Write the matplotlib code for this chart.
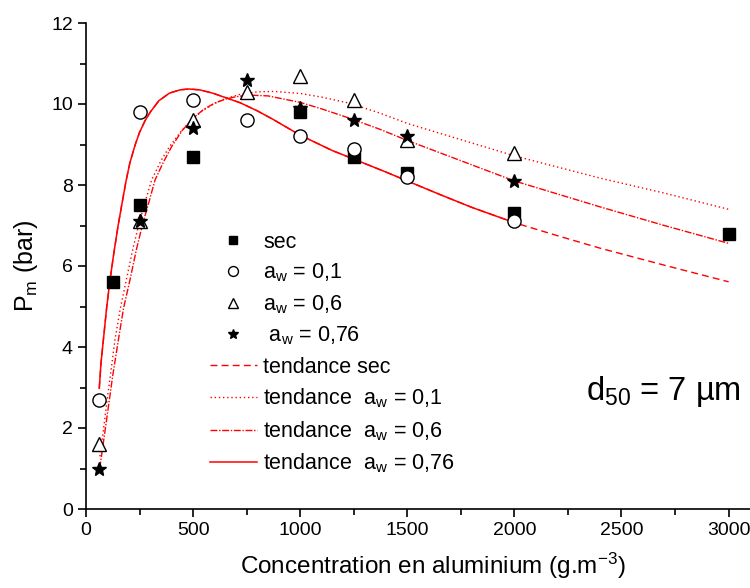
import matplotlib
matplotlib.use("Agg")
import matplotlib.pyplot as plt

plt.rcParams['font.family'] = ['Liberation Sans', 'DejaVu Sans']
plt.rcParams['mathtext.default'] = 'regular'

# measured points
conc_sec = [125, 250, 500, 1000, 1250, 1500, 2000, 3000]
pm_sec = [5.6, 7.5, 8.7, 9.8, 8.7, 8.3, 7.3, 6.8]

conc_aw = [60, 250, 500, 750, 1000, 1250, 1500, 2000]
pm_aw01 = [2.7, 9.8, 10.1, 9.6, 9.2, 8.9, 8.2, 7.1]
pm_aw06 = [1.6, 7.1, 9.6, 10.3, 10.7, 10.1, 9.1, 8.8]
pm_aw076 = [1.0, 7.1, 9.4, 10.6, 9.9, 9.6, 9.2, 8.1]

# trend curves
tr_076_x = [62, 70, 81, 96, 112, 130, 150, 170, 187, 205, 230, 250, 275, 300, 340,
            390, 440, 480, 530, 590, 650, 720, 800, 870, 1000, 1150, 1250, 1400,
            1500, 1650, 1800, 2000]
tr_076_y = [2.98, 3.6, 4.17, 4.95, 5.65, 6.32, 7.0, 7.6, 8.1, 8.55, 9.0, 9.3, 9.58,
            9.8, 10.08, 10.27, 10.35, 10.37, 10.35, 10.27, 10.16, 10.03, 9.83, 9.63,
            9.23, 8.85, 8.64, 8.32, 8.1, 7.77, 7.45, 7.07]

tr_sec_x = tr_076_x + [2200, 2400, 2700, 3000]
tr_sec_y = tr_076_y + [6.75, 6.44, 6.02, 5.61]

tr_01_x = [65, 80, 100, 120, 135, 160, 190, 220, 250, 280, 306, 350, 390, 440, 485,
           540, 595, 650, 720, 800, 880, 1000, 1100, 1230, 1370, 1500, 1700, 2000,
           2400, 2700, 3000]
tr_01_y = [1.3, 1.9, 2.75, 3.55, 4.17, 4.95, 5.7, 6.45, 7.1, 7.65, 8.12, 8.6, 8.95,
           9.3, 9.57, 9.82, 10.0, 10.13, 10.24, 10.3, 10.31, 10.26, 10.17, 10.02,
           9.78, 9.52, 9.2, 8.72, 8.17, 7.8, 7.4]

tr_06_x = [64, 80, 100, 125, 151, 175, 205, 235, 265, 295, 322, 360, 400, 450, 500,
           550, 600, 650, 700, 760, 850, 1000, 1100, 1230, 1370, 1500, 1700, 2000,
           2400, 2700, 3000]
tr_06_y = [1.0, 1.6, 2.35, 3.3, 4.17, 4.95, 5.65, 6.4, 7.05, 7.6, 8.12, 8.55, 8.95,
           9.35, 9.65, 9.87, 10.02, 10.12, 10.18, 10.22, 10.2, 10.04, 9.88, 9.65,
           9.38, 9.1, 8.7, 8.1, 7.46, 7.0, 6.56]

fig = plt.figure(figsize=(7.5, 5.88), dpi=100)
ax = fig.add_axes([86 / 750, 79 / 588, 664 / 750, 486 / 588])

ax.plot(conc_sec, pm_sec, 's', color='black', markersize=8.5, label='sec', zorder=3)
ax.plot(conc_aw, pm_aw01, 'o', mfc='white', mec='black', mew=1, markersize=9.5,
        label=r'a$_{w}$ = 0,1', zorder=3)
ax.plot(conc_aw, pm_aw06, '^', mfc='white', mec='black', mew=1, markersize=10,
        label=r'a$_{w}$ = 0,6', zorder=3)
ax.plot(conc_aw, pm_aw076, '*', mfc='black', mec='black', mew=1, markersize=10,
        label=r' a$_{w}$ = 0,76', zorder=3)

red = '#ff0000'
ax.plot(tr_sec_x, tr_sec_y, color=red, lw=1, dashes=(5, 3), label='tendance sec')
ax.plot(tr_01_x, tr_01_y, color=red, lw=1, dashes=(1, 2),
        label=r'tendance  a$_{w}$ = 0,1')
ax.plot(tr_06_x, tr_06_y, color=red, lw=1, dashes=(5, 1.2, 1, 1.2),
        label=r'tendance  a$_{w}$ = 0,6')
ax.plot(tr_076_x, tr_076_y, color=red, lw=1.1, label=r'tendance  a$_{w}$ = 0,76')

ax.set_xlim(0, 3100)
ax.set_ylim(0, 12)
ax.set_xticks(range(0, 3001, 500))
ax.set_xticks(range(250, 3001, 500), minor=True)
ax.set_yticks(range(0, 13, 2))
ax.set_yticks(range(1, 12, 2), minor=True)
ax.tick_params(which='major', direction='out', length=6, width=1.2, labelsize=14)
ax.tick_params(which='minor', direction='out', length=4, width=1.2)
for s in ['top', 'right']:
    ax.spines[s].set_visible(False)
for s in ['left', 'bottom']:
    ax.spines[s].set_linewidth(1.2)

ax.set_xlabel(r'Concentration en aluminium (g.m$^{-3}$)', fontsize=17.5)
ax.xaxis.set_label_coords(0.523, -0.085)
ax.set_ylabel(r'P$_{m}$ (bar)', fontsize=18, labelpad=8)

ax.text(2335, 2.9, r'd$_{50}$ = 7 µm', fontsize=23.5, va='center')

ax.legend(loc='upper left', bbox_to_anchor=(0.17, 0.593), frameon=False,
          fontsize=15.5, markerscale=0.75, handlelength=2.2, labelspacing=0.42,
          handletextpad=0.3, borderpad=0)

fig.savefig('out.png', dpi=100)
